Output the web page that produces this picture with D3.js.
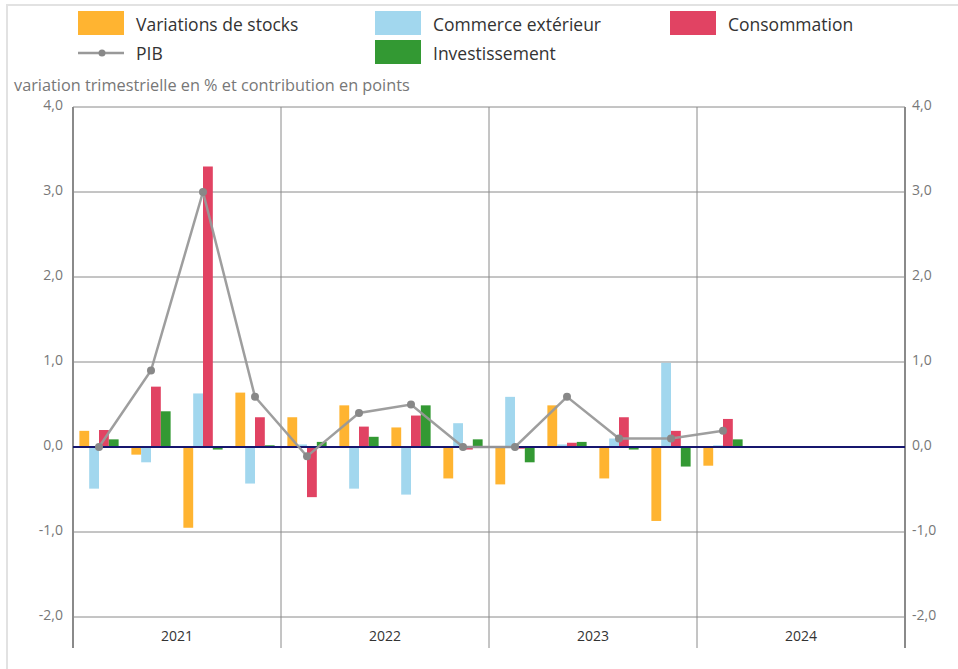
<!DOCTYPE html>
<html>
<head>
<meta charset="utf-8">
<script src="https://cdn.jsdelivr.net/npm/d3@7"></script>
<style>
  body { margin: 0; background: #fff; font-family: "Open Sans", sans-serif; }
  .tick-label { fill: #777; font-size: 14px; }
  .year-label { fill: #333; font-size: 14px; }
  .legend-text { fill: #333; font-size: 17.5px; }
</style>
</head>
<body>
<div id="chart"></div>
<script>
'use strict';

// Quarters 2021 T1 .. 2024 T4, values known up to 2024 T1.
var years = ['2021', '2022', '2023', '2024'];
var quarters = d3.range(16);

var stocks = [0.19, -0.09, -0.95, 0.64, 0.35, 0.49, 0.23, -0.37, -0.44, 0.49, -0.37, -0.87, -0.22];
var commerce = [-0.49, -0.18, 0.63, -0.43, 0.03, -0.49, -0.56, 0.28, 0.59, 0.03, 0.10, 0.99, 0.02];
var consommation = [0.20, 0.71, 3.30, 0.35, -0.59, 0.24, 0.37, -0.03, -0.02, 0.05, 0.35, 0.19, 0.33];
var investissement = [0.09, 0.42, -0.03, 0.02, 0.06, 0.12, 0.49, 0.09, -0.18, 0.06, -0.03, -0.23, 0.09];
var pib = [0.0, 0.90, 3.0, 0.59, -0.11, 0.40, 0.50, 0.0, 0.0, 0.59, 0.10, 0.10, 0.19];

var yTicks = [-2, -1, 0, 1, 2, 3, 4];

var series = [
  { name: 'Variations de stocks', values: stocks, color: '#ffb431' },
  { name: 'Commerce extérieur', values: commerce, color: '#a2d7ee' },
  { name: 'Consommation', values: consommation, color: '#e14363' },
  { name: 'Investissement', values: investissement, color: '#339933' }
];

var width = 958;
var height = 669;
var plotLeft = 73, plotRight = 905, plotTop = 107, plotBottom = 617;

var svg = d3.select('#chart').append('svg')
  .attr('width', width)
  .attr('height', height);

// Outer frame
svg.append('path')
  .attr('d', 'M7,669 V5 H958')
  .attr('fill', 'none')
  .attr('stroke', '#e2e2e2')
  .attr('stroke-width', 2);

var y = d3.scaleLinear().domain([-2, 4]).range([plotBottom, plotTop]);

var xYear = d3.scaleBand().domain(years).range([plotLeft, plotRight]);
var xQ = d3.scaleBand().domain(quarters).range([plotLeft, plotRight]);
var xSeries = d3.scaleBand()
  .domain(series.map(function(s) { return s.name; }))
  .range([0, xQ.bandwidth()])
  .paddingOuter(0.65);

// French decimal comma, plain hyphen for negatives
var fmt = function(v) { return v.toFixed(1).replace('.', ','); };

// Horizontal grid
svg.append('g').selectAll('line')
  .data(yTicks)
  .enter().append('line')
  .attr('x1', plotLeft)
  .attr('x2', plotRight)
  .attr('y1', function(d) { return y(d); })
  .attr('y2', function(d) { return y(d); })
  .attr('stroke', '#8a8a8a')
  .attr('stroke-width', 1);

// Year dividers
svg.append('g').selectAll('line')
  .data(years.slice(1))
  .enter().append('line')
  .attr('x1', function(d) { return xYear(d); })
  .attr('x2', function(d) { return xYear(d); })
  .attr('y1', plotTop)
  .attr('y2', 648)
  .attr('stroke', '#8a8a8a')
  .attr('stroke-width', 1);

// Left & right axis lines
[plotLeft, plotRight].forEach(function(x) {
  svg.append('line')
    .attr('x1', x).attr('x2', x)
    .attr('y1', plotTop).attr('y2', 648)
    .attr('stroke', '#8a8a8a')
    .attr('stroke-width', 2);
});

// Tick labels
svg.append('g').selectAll('text')
  .data(yTicks)
  .enter().append('text')
  .attr('class', 'tick-label')
  .attr('x', 63)
  .attr('y', function(d) { return y(d); })
  .attr('dy', '0.2em')
  .attr('text-anchor', 'end')
  .text(fmt);

svg.append('g').selectAll('text')
  .data(yTicks)
  .enter().append('text')
  .attr('class', 'tick-label')
  .attr('x', 912)
  .attr('y', function(d) { return y(d); })
  .attr('dy', '0.2em')
  .text(fmt);

svg.append('g').selectAll('text')
  .data(years)
  .enter().append('text')
  .attr('class', 'year-label')
  .attr('x', function(d) { return xYear(d) + xYear.bandwidth() / 2; })
  .attr('y', 641)
  .attr('text-anchor', 'middle')
  .text(function(d) { return d; });

svg.append('text')
  .attr('x', 14)
  .attr('y', 91)
  .attr('fill', '#777')
  .attr('font-size', 16.3)
  .text('variation trimestrielle en % et contribution en points');

// Bars
series.forEach(function(s) {
  svg.append('g').selectAll('rect')
    .data(s.values)
    .enter().append('rect')
    .attr('x', function(d, i) { return xQ(i) + xSeries(s.name); })
    .attr('width', xSeries.bandwidth())
    .attr('y', function(d) { return y(Math.max(0, d)); })
    .attr('height', function(d) { return Math.abs(y(d) - y(0)); })
    .attr('fill', s.color);
});

// Zero line
svg.append('line')
  .attr('x1', plotLeft)
  .attr('x2', plotRight)
  .attr('y1', y(0))
  .attr('y2', y(0))
  .attr('stroke', '#16166e')
  .attr('stroke-width', 2);

// PIB line
var line = d3.line()
  .x(function(d, i) { return xQ(i) + xQ.bandwidth() / 2; })
  .y(function(d) { return y(d); });

svg.append('path')
  .datum(pib)
  .attr('d', line)
  .attr('fill', 'none')
  .attr('stroke', '#999')
  .attr('stroke-width', 2.5)
  .attr('opacity', 0.95);

svg.append('g').selectAll('circle')
  .data(pib)
  .enter().append('circle')
  .attr('cx', function(d, i) { return xQ(i) + xQ.bandwidth() / 2; })
  .attr('cy', function(d) { return y(d); })
  .attr('r', 4)
  .attr('fill', '#888');

// Legend
var legend = [
  { name: 'Variations de stocks', color: '#ffb431', x: 78, y: 11 },
  { name: 'Commerce extérieur', color: '#a2d7ee', x: 375, y: 11 },
  { name: 'Consommation', color: '#e14363', x: 670, y: 11 },
  { name: 'PIB', line: true, x: 78, y: 40 },
  { name: 'Investissement', color: '#339933', x: 375, y: 40 }
];

legend.forEach(function(l) {
  var g = svg.append('g').attr('transform', 'translate(' + l.x + ',' + l.y + ')');
  if (l.line) {
    g.append('line')
      .attr('x1', 0).attr('x2', 46)
      .attr('y1', 13).attr('y2', 13)
      .attr('stroke', '#999')
      .attr('stroke-width', 2.5);
    g.append('circle')
      .attr('cx', 24).attr('cy', 13).attr('r', 3.5)
      .attr('fill', '#888');
  } else {
    g.append('rect')
      .attr('width', 46)
      .attr('height', 24)
      .attr('fill', l.color);
  }
  g.append('text')
    .attr('class', 'legend-text')
    .attr('x', 58)
    .attr('y', 14)
    .attr('dy', '0.35em')
    .text(l.name);
});
</script>
</body>
</html>
